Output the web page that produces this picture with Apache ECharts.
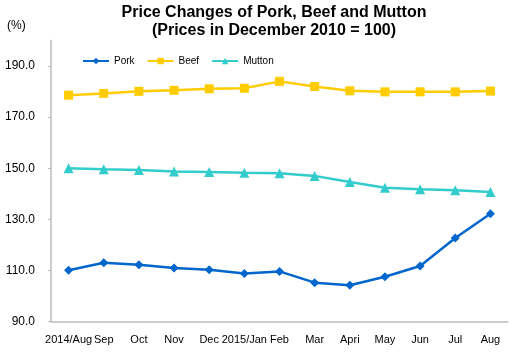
<!DOCTYPE html>
<html>
<head>
<meta charset="utf-8">
<script src="https://cdn.jsdelivr.net/npm/echarts@6/dist/echarts.min.js"></script>
<style>
  html, body { margin: 0; padding: 0; background: #fff; }
  #chart { width: 515px; height: 352px; }
</style>
</head>
<body>
<div id="chart"></div>
<script>
// months on the x axis
var months = ['2014/Aug', 'Sep', 'Oct', 'Nov', 'Dec', '2015/Jan', 'Feb', 'Mar', 'Apri', 'May', 'Jun', 'Jul', 'Aug'];

// price indexes, Dec 2010 = 100
var pork = [110.1, 113.0, 112.2, 110.9, 110.3, 108.8, 109.6, 105.2, 104.2, 107.5, 111.7, 122.7, 132.2];
var beef = [178.6, 179.3, 180.1, 180.5, 181.1, 181.3, 184.0, 182.0, 180.3, 179.9, 179.9, 179.9, 180.2];
var mutton = [150.0, 149.6, 149.3, 148.7, 148.5, 148.2, 148.0, 147.0, 144.6, 142.4, 141.8, 141.4, 140.7];

var chart = echarts.init(document.getElementById('chart'));
var font = 'Liberation Sans, Arial, sans-serif';

function lineSeries(name, data, color, symbol, size) {
    return {
        name: name,
        type: 'line',
        data: data,
        symbol: symbol,
        symbolSize: size,
        color: color,
        lineStyle: { color: color, width: 2.5 },
        itemStyle: { color: color },
        animation: false
    };
}

chart.setOption({
    animation: false,
    textStyle: { fontFamily: font },
    title: {
        text: 'Price Changes of Pork, Beef and Mutton\n(Prices in December 2010 = 100)',
        left: 269,
        top: -1,
        textAlign: 'center',
        textStyle: { fontFamily: font, fontSize: 16, fontWeight: 'bold', color: '#000', lineHeight: 18 }
    },
    graphic: [{
        type: 'text',
        left: 7,
        top: 20,
        style: { text: '(%)', font: '12px ' + font, fill: '#000' }
    }],
    legend: {
        left: 77,
        top: 51,
        itemWidth: 26,
        itemHeight: 8,
        itemGap: 12,
        textStyle: { fontFamily: font, fontSize: 10, color: '#000' },
        data: ['Pork', 'Beef', 'Mutton']
    },
    grid: {
        left: 51,
        right: 7,
        top: 40.5,
        bottom: 30.5,
        containLabel: false
    },
    xAxis: {
        type: 'category',
        data: months,
        boundaryGap: true,
        axisLine: { lineStyle: { color: '#bbbbbb', width: 1.5 } },
        axisTick: { show: false },
        axisLabel: { color: '#000', fontSize: 11, margin: 13, interval: 0 },
        splitLine: { show: false }
    },
    yAxis: {
        type: 'value',
        min: 90,
        max: 200,
        interval: 20,
        axisLine: { show: true, lineStyle: { color: '#bbbbbb', width: 1.5 } },
        axisTick: { show: true, length: 3, lineStyle: { color: '#bbbbbb' } },
        axisLabel: {
            color: '#000',
            fontSize: 12,
            margin: 16,
            showMaxLabel: false,
            formatter: function(v) { return v.toFixed(1); }
        },
        splitLine: { show: false }
    },
    series: [
        lineSeries('Pork', pork, '#0066cc', 'diamond', 9),
        lineSeries('Beef', beef, '#ffcc00', 'rect', 9),
        lineSeries('Mutton', mutton, '#33cccc', 'triangle', 10)
    ]
});
</script>
</body>
</html>
